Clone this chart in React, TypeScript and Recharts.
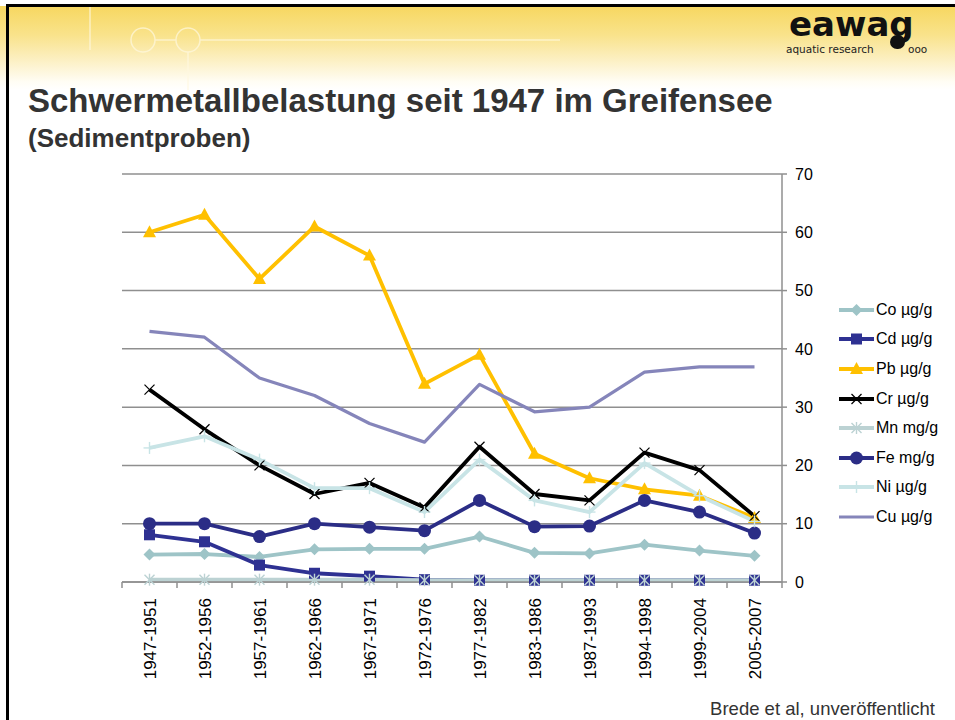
import React from 'react'
import { LineChart, Line, XAxis, YAxis, CartesianGrid, Legend } from 'recharts'

// Zeiträume der Sedimentproben
const periods = [
  '1947-1951', '1952-1956', '1957-1961', '1962-1966', '1967-1971', '1972-1976',
  '1977-1982', '1983-1986', '1987-1993', '1994-1998', '1999-2004', '2005-2007',
]

const co = [4.7, 4.8, 4.3, 5.6, 5.7, 5.7, 7.8, 5.0, 4.9, 6.4, 5.4, 4.5]
const cd = [8.1, 6.9, 2.9, 1.5, 1.0, 0.4, 0.3, 0.3, 0.3, 0.3, 0.3, 0.3]
const pb = [60, 63, 52, 61, 56, 34, 39, 22, 17.8, 15.9, 14.8, 11]
const cr = [33, 26.2, 20, 15.1, 17, 12.8, 23.2, 15.1, 14, 22.2, 19.2, 11.3]
const mn = [0.4, 0.4, 0.4, 0.4, 0.4, 0.3, 0.3, 0.3, 0.3, 0.3, 0.3, 0.3]
const fe = [10, 10, 7.8, 10, 9.4, 8.8, 14, 9.5, 9.6, 14, 12, 8.4]
const ni = [23, 25, 21, 16.1, 16.1, 12, 21, 14, 12, 20.4, 14.8, 10.4]
const cu = [43, 42, 35, 32, 27.2, 24, 33.9, 29.2, 30, 36, 36.9, 36.9]

const yTicks = [0, 10, 20, 30, 40, 50, 60, 70]

const data = periods.map((period, i) => ({
  period,
  co: co[i], cd: cd[i], pb: pb[i], cr: cr[i],
  mn: mn[i], fe: fe[i], ni: ni[i], cu: cu[i],
}))

type Shape = 'diamond' | 'square' | 'triangle' | 'x' | 'star' | 'circle' | 'plus' | 'none'

const series: { key: string; label: string; color: string; shape: Shape; width: number }[] = [
  { key: 'co', label: 'Co µg/g', color: '#9ec4c7', shape: 'diamond', width: 3.8 },
  { key: 'cd', label: 'Cd µg/g', color: '#2e3192', shape: 'square', width: 3.8 },
  { key: 'pb', label: 'Pb µg/g', color: '#ffc000', shape: 'triangle', width: 3.8 },
  { key: 'cr', label: 'Cr µg/g', color: '#000000', shape: 'x', width: 3.8 },
  { key: 'mn', label: 'Mn mg/g', color: '#bcd2d3', shape: 'star', width: 3.8 },
  { key: 'fe', label: 'Fe mg/g', color: '#2b2d86', shape: 'circle', width: 3.8 },
  { key: 'ni', label: 'Ni µg/g', color: '#c8e4e6', shape: 'plus', width: 3.8 },
  { key: 'cu', label: 'Cu µg/g', color: '#8585ba', shape: 'none', width: 3.2 },
]

const gridColor = '#8f8f8f'
const font = '"Liberation Sans", Arial, sans-serif'
const logoFont = '"DejaVu Sans", sans-serif'

function Marker({ shape, cx, cy, color }: { shape: Shape; cx: number; cy: number; color: string }) {
  if (cx == null || cy == null) return null
  switch (shape) {
    case 'diamond':
      return <polygon points={`${cx},${cy - 6} ${cx + 6},${cy} ${cx},${cy + 6} ${cx - 6},${cy}`} fill={color} />
    case 'square':
      return <rect x={cx - 5.5} y={cy - 5.5} width={11} height={11} fill={color} />
    case 'triangle':
      return <polygon points={`${cx},${cy - 7} ${cx + 6.5},${cy + 5} ${cx - 6.5},${cy + 5}`} fill={color} />
    case 'x':
      return (
        <g stroke={color} strokeWidth={1.2}>
          <line x1={cx - 5} y1={cy - 5} x2={cx + 5} y2={cy + 5} />
          <line x1={cx - 5} y1={cy + 5} x2={cx + 5} y2={cy - 5} />
        </g>
      )
    case 'star':
      return (
        <g stroke={color} strokeWidth={1.4}>
          <line x1={cx - 5} y1={cy - 5} x2={cx + 5} y2={cy + 5} />
          <line x1={cx - 5} y1={cy + 5} x2={cx + 5} y2={cy - 5} />
          <line x1={cx} y1={cy - 6} x2={cx} y2={cy + 6} />
        </g>
      )
    case 'circle':
      return <circle cx={cx} cy={cy} r={6.5} fill={color} />
    case 'plus':
      return (
        <g stroke={color} strokeWidth={1.4}>
          <line x1={cx - 6} y1={cy} x2={cx + 6} y2={cy} />
          <line x1={cx} y1={cy - 6} x2={cx} y2={cy + 6} />
        </g>
      )
    default:
      return null
  }
}

const PeriodTick = (props: any) => {
  const { x, y, payload, index, visibleTicksCount } = props
  const half = payload.offset || 0
  const axisY = y - 16
  const last = index === visibleTicksCount - 1
  return (
    <g>
      <line x1={x - half} y1={axisY} x2={x - half} y2={axisY + 6} stroke={gridColor} strokeWidth={1.5} />
      {last && <line x1={x + half} y1={axisY} x2={x + half} y2={axisY + 6} stroke={gridColor} strokeWidth={1.5} />}
      <text
        x={x}
        y={y}
        dy="0.36em"
        transform={`rotate(-90, ${x}, ${y})`}
        textAnchor="end"
        fontSize={17}
        fontFamily={font}
        fill="#000"
      >
        {payload.value}
      </text>
    </g>
  )
}

const LegendBox = () => (
  <div style={{ fontFamily: font, fontSize: 16, color: '#000' }}>
    {series.map(s => (
      <div key={s.key} style={{ display: 'flex', alignItems: 'center', height: 29.6 }}>
        <svg width={37} height={16} style={{ display: 'block' }}>
          <line x1={1} y1={8} x2={36} y2={8} stroke={s.color} strokeWidth={s.width} />
          <Marker shape={s.shape} cx={18.5} cy={8} color={s.color} />
        </svg>
        <span style={{ marginLeft: 1, whiteSpace: 'nowrap' }}>{s.label}</span>
      </div>
    ))}
  </div>
)

export default function App() {
  return (
    <div style={{ position: 'absolute', left: 0, top: 0, width: 955, height: 720, background: '#fff', overflow: 'hidden', fontFamily: font }}>
      {/* Folienkopf */}
      <div style={{
        position: 'absolute', left: 0, top: 6, width: 955, height: 84,
        background: 'linear-gradient(to bottom, #f7d760 0%, #f9e38c 35%, #fcf0c4 65%, #fffdf4 90%, #ffffff 100%)',
      }} />
      <svg width={955} height={90} style={{ position: 'absolute', left: 0, top: 0 }}>
        <g stroke="#fff9e0" strokeWidth={1.5} fill="none" opacity={0.7}>
          <line x1={90} y1={6} x2={90} y2={50} />
          <circle cx={143} cy={40} r={12} />
          <circle cx={188} cy={40} r={12} />
          <line x1={155} y1={40} x2={176} y2={40} />
          <line x1={200} y1={40} x2={560} y2={40} />
          <line x1={188} y1={52} x2={188} y2={90} />
        </g>
      </svg>
      <div style={{ position: 'absolute', left: 6, top: 4, width: 949, height: 3, background: '#000' }} />
      <div style={{ position: 'absolute', left: 6, top: 4, width: 3, height: 716, background: '#000' }} />

      {/* Logo */}
      <div style={{ position: 'absolute', left: 789, top: 7, fontFamily: logoFont, fontWeight: 900, fontSize: 34, lineHeight: '34px', color: '#111' }}>
        eawag
      </div>
      <div style={{ position: 'absolute', left: 786, top: 44, fontFamily: logoFont, fontSize: 10.5, lineHeight: '10px', color: '#222' }}>
        aquatic research
      </div>
      <div style={{ position: 'absolute', left: 890, top: 35, width: 15, height: 14, borderRadius: 8, background: '#111' }} />
      <div style={{ position: 'absolute', left: 908, top: 44, fontFamily: logoFont, fontSize: 10.5, lineHeight: '10px', color: '#222' }}>
        ooo
      </div>

      {/* Titel */}
      <div style={{ position: 'absolute', left: 28, top: 84, fontSize: 33, lineHeight: '33px', fontWeight: 'bold', color: '#333', whiteSpace: 'nowrap' }}>
        Schwermetallbelastung seit 1947 im Greifensee
      </div>
      <div style={{ position: 'absolute', left: 28, top: 125, fontSize: 26, lineHeight: '26px', fontWeight: 'bold', color: '#333' }}>
        (Sedimentproben)
      </div>

      <div style={{ position: 'absolute', left: 0, top: 0 }}>
        <LineChart width={955} height={720} data={data} margin={{ top: 174, left: 122, right: 113, bottom: 28 }}>
          <CartesianGrid vertical={false} stroke={gridColor} strokeWidth={1.5} />
          <XAxis
            dataKey="period"
            type="category"
            scale="band"
            interval={0}
            height={110}
            tickLine={false}
            tickSize={6}
            tickMargin={10}
            axisLine={{ stroke: gridColor, strokeWidth: 1.5 }}
            tick={<PeriodTick />}
          />
          <YAxis
            orientation="right"
            width={60}
            domain={[0, 70]}
            ticks={yTicks}
            interval={0}
            tickSize={5}
            tickMargin={8}
            axisLine={{ stroke: gridColor, strokeWidth: 1.5 }}
            tickLine={{ stroke: gridColor, strokeWidth: 1.5 }}
            tick={{ fill: '#000', fontSize: 16, fontFamily: font }}
          />
          <Legend
            layout="vertical"
            align="center"
            verticalAlign="middle"
            wrapperStyle={{ left: 838, top: 295, width: 115 }}
            content={<LegendBox />}
          />
          {series.map(s => (
            <Line
              key={s.key}
              type="linear"
              dataKey={s.key}
              name={s.label}
              stroke={s.color}
              strokeWidth={s.width}
              strokeLinejoin="round"
              activeDot={false}
              isAnimationActive={false}
              dot={(p: any) => <Marker key={`${s.key}-${p.index}`} shape={s.shape} cx={p.cx} cy={p.cy} color={s.color} />}
            />
          ))}
        </LineChart>
      </div>

      <div style={{ position: 'absolute', right: 20, top: 700, fontSize: 18.5, lineHeight: '18px', color: '#333' }}>
        Brede et al, unveröffentlicht
      </div>
    </div>
  )
}
